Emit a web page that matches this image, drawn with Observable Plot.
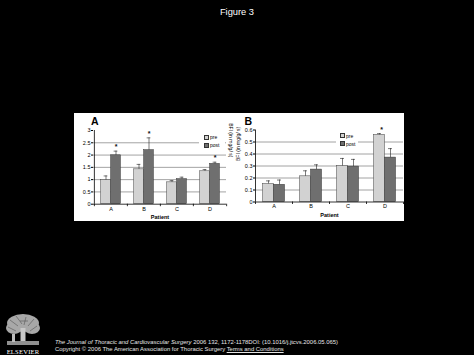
<!DOCTYPE html>
<html><head><meta charset="utf-8">
<script src="https://cdn.jsdelivr.net/npm/d3@7"></script>
<script src="https://cdn.jsdelivr.net/npm/@observablehq/plot@0.6"></script>
<style>
html,body{margin:0;padding:0;background:#000;}
#page{position:relative;width:474px;height:355px;overflow:hidden;background:#000;font-family:"Liberation Sans",Arial,sans-serif;}
.abs{position:absolute;}
#title{left:0;width:474px;top:7px;text-align:center;color:#fff;font-size:9.3px;line-height:10px;}
#white{left:74px;top:113px;width:330px;height:108px;background:#fff;}
.letter{font-weight:bold;font-size:10.5px;line-height:10px;color:#000;}
.legend{background:#fff;}
.lg-item{position:absolute;font-size:5px;line-height:5px;color:#000;white-space:nowrap;}
.sw{display:inline-block;width:3.2px;height:3.2px;border:0.5px solid #333;margin-right:1.3px;vertical-align:middle;position:relative;top:-0.5px;}
.cap{left:55px;color:#e6e6e6;font-size:5.9px;line-height:7px;white-space:nowrap;}
.cap a{color:#e6e6e6;text-decoration:underline;}
</style></head>
<body>
<div id="page">
  <div id="title" class="abs">Figure 3</div>
  <div id="white" class="abs"></div>
  <div id="panelA" class="abs" style="left:74px;top:113px;"></div>
  <div id="panelB" class="abs" style="left:236px;top:113px;"></div>
  <div class="abs letter" style="left:91px;top:116px;">A</div>
  <div class="abs letter" style="left:244.5px;top:116px;">B</div>
  <div id="legendA" class="abs legend" style="left:199px;top:132px;width:26px;height:16px;"></div>
  <div id="legendB" class="abs legend" style="left:336px;top:131px;width:22px;height:17px;"></div>
  <svg class="abs" style="left:4px;top:312px;" width="38" height="43" viewBox="0 0 38 43">
    <g fill="#a8a8a8">
      <ellipse cx="19" cy="11" rx="16" ry="9"/>
      <ellipse cx="10" cy="16" rx="8" ry="6"/>
      <ellipse cx="28" cy="16" rx="8" ry="6"/>
    </g>
    <g stroke="#555" stroke-width="0.6">
      <path d="M6 8 L14 14 M12 4 L18 12 M22 5 L20 13 M30 7 L24 14 M4 15 L12 19 M33 14 L26 19 M16 9 L24 9"/>
    </g>
    <rect x="16.5" y="16" width="5" height="16" fill="#c8c8c8"/>
    <rect x="3" y="29" width="32" height="4" fill="#8f8f8f"/>
    <rect x="8" y="22" width="3" height="8" fill="#bdbdbd"/>
    <text x="19" y="41.5" text-anchor="middle" fill="#fff" font-family="Liberation Serif, DejaVu Serif, serif" font-size="6.6" letter-spacing="0.2">ELSEVIER</text>
  </svg>
  <div class="abs cap" style="top:339px;"><i>The Journal of Thoracic and Cardiovascular Surgery</i> 2006 132, 1172-1178DOI: (10.1016/j.jtcvs.2006.05.065)</div>
  <div class="abs cap" style="top:345.5px;">Copyright © 2006 The American Association for Thoracic Surgery <a>Terms and Conditions</a></div>
</div>
<script>
// ---- data ----
const patients = ["A", "B", "C", "D"];
const seriesNames = ["pre", "post"];
const yLabel = "BFI (in mg/g/ s)";
const xLabel = "Patient";

// Panel A
const preA = [0.98, 1.42, 0.89, 1.34];
const preErrA = [0.17, 0.20, 0.07, 0.07];
const postA = [1.99, 2.20, 1.02, 1.64];
const postErrA = [0.17, 0.50, 0.08, 0.07];
const starsPreA = ["", "", "", ""];
const starsPostA = ["*", "*", "", "*"];
const yTicksA = [0, 0.5, 1, 1.5, 2, 2.5, 3];

// Panel B
const preB = [0.151, 0.214, 0.30, 0.56];
const preErrB = [0.025, 0.046, 0.063, 0.01];
const postB = [0.143, 0.270, 0.295, 0.37];
const postErrB = [0.040, 0.040, 0.060, 0.075];
const starsPreB = ["", "", "", "*"];
const starsPostB = ["", "", "", ""];
const yTicksB = [0, 0.1, 0.2, 0.3, 0.4, 0.5, 0.6];

const preFill = "#d2d2d2", postFill = "#6f6f6f";

function panel(o) {
  const rows = patients.flatMap((p, i) => [
    {patient: p, series: seriesNames[0], value: o.pre[i], top: o.pre[i] + o.preErr[i], star: o.starsPre[i]},
    {patient: p, series: seriesNames[1], value: o.post[i], top: o.post[i] + o.postErr[i], star: o.starsPost[i]}
  ]);
  const preRows = rows.filter(d => d.series === "pre");
  const postRows = rows.filter(d => d.series === "post");
  const bw = (o.width - o.ml - o.mr) / patients.length;
  const bW = o.barW, capW = 4;
  const yMax = o.yTicks[o.yTicks.length - 1];
  const errMarks = (rs, sign) => [
    Plot.ruleX(rs, {x: "patient", y1: "value", y2: "top", dx: sign * bW / 2, stroke: "#222", strokeWidth: 0.6}),
    Plot.tickY(rs, {x: "patient", y: "top", insetLeft: bw / 2 + sign * bW / 2 - capW / 2, insetRight: bw / 2 - sign * bW / 2 - capW / 2, stroke: "#222", strokeWidth: 0.6}),
    Plot.text(rs.filter(d => d.star), {x: "patient", y: "top", text: "star", dx: sign * bW / 2 + (o.starDx || 0), dy: -4, fontSize: 7, fontWeight: "bold", fill: "#111"})
  ];
  return Plot.plot({
    width: o.width, height: o.height,
    marginLeft: o.ml, marginRight: o.mr, marginTop: o.mt, marginBottom: o.mb,
    style: {background: "transparent", color: "#000", fontFamily: "Liberation Sans, Arial, sans-serif", fontSize: "5.5px", overflow: "visible"},
    x: {domain: patients, padding: 0, tickSize: 0, tickPadding: 2.5, label: null},
    y: {domain: [0, yMax], ticks: o.yTicks, tickSize: 2, tickPadding: 1, label: null, tickFormat: d => String(d)},
    marks: [
      Plot.ruleY(o.yTicks.filter(t => t > 0 && t < yMax), {stroke: "#8c8c8c", strokeWidth: 0.8}),
      Plot.barY(preRows, {x: "patient", y: "value", insetLeft: bw / 2 - bW, insetRight: bw / 2, fill: preFill, stroke: "#444", strokeWidth: 0.5}),
      Plot.barY(postRows, {x: "patient", y: "value", insetLeft: bw / 2, insetRight: bw / 2 - bW, fill: postFill, stroke: "#333", strokeWidth: 0.5}),
      ...errMarks(preRows, -1),
      ...errMarks(postRows, 1),
      Plot.ruleY([0], {stroke: "#000", strokeWidth: 0.8}),
      Plot.ruleX(patients, {x: d => d, y1: 0, y2: 0, dx: -bw / 2, insetBottom: -2.5, stroke: "#000", strokeWidth: 0.8}),
      Plot.ruleX(patients.slice(-1), {x: d => d, y1: 0, y2: 0, dx: bw / 2, insetBottom: -2.5, stroke: "#000", strokeWidth: 0.8}),
      Plot.ruleX(patients.slice(0, 1), {x: d => d, y1: 0, y2: yMax, dx: -bw / 2, stroke: "#000", strokeWidth: 0.8}),
      Plot.text([yLabel], {frameAnchor: o.labelSide, rotate: o.labelSide === "right" ? 90 : -90, dx: o.labelDx, dy: o.labelDy, fontSize: 5, fill: "#000"}),
      Plot.text([xLabel], {frameAnchor: "bottom", lineAnchor: "middle", dy: 13, fontSize: 5.5, fontWeight: "bold", fill: "#000"})
    ]
  });
}

document.getElementById("panelA").append(panel({
  pre: preA, preErr: preErrA, post: postA, postErr: postErrA, starsPre: starsPreA, starsPost: starsPostA,
  yTicks: yTicksA, width: 162, height: 108, ml: 19, mr: 10, mt: 17, mb: 17.3, barW: 10,
  labelSide: "right", labelDx: 4, labelDy: -10
}));
document.getElementById("panelB").append(panel({
  pre: preB, preErr: preErrB, post: postB, postErr: postErrB, starsPre: starsPreB, starsPost: starsPostB,
  yTicks: yTicksB, width: 168, height: 108, ml: 19, mr: 1, mt: 16.5, mb: 19.5, barW: 11, starDx: 2,
  labelSide: "left", labelDx: -17, labelDy: -5
}));

function legend(id, sx, sy) {
  const el = document.getElementById(id);
  seriesNames.forEach((s, i) => {
    const it = document.createElement("div");
    it.className = "lg-item";
    it.style.left = sx + "px";
    it.style.top = (sy + i * 8) + "px";
    it.innerHTML = `<span class="sw" style="background:${i === 0 ? preFill : postFill}"></span>${s}`;
    el.append(it);
  });
}
legend("legendA", 4.5, 3);
legend("legendB", 3.5, 2.5);
</script>
</body></html>
